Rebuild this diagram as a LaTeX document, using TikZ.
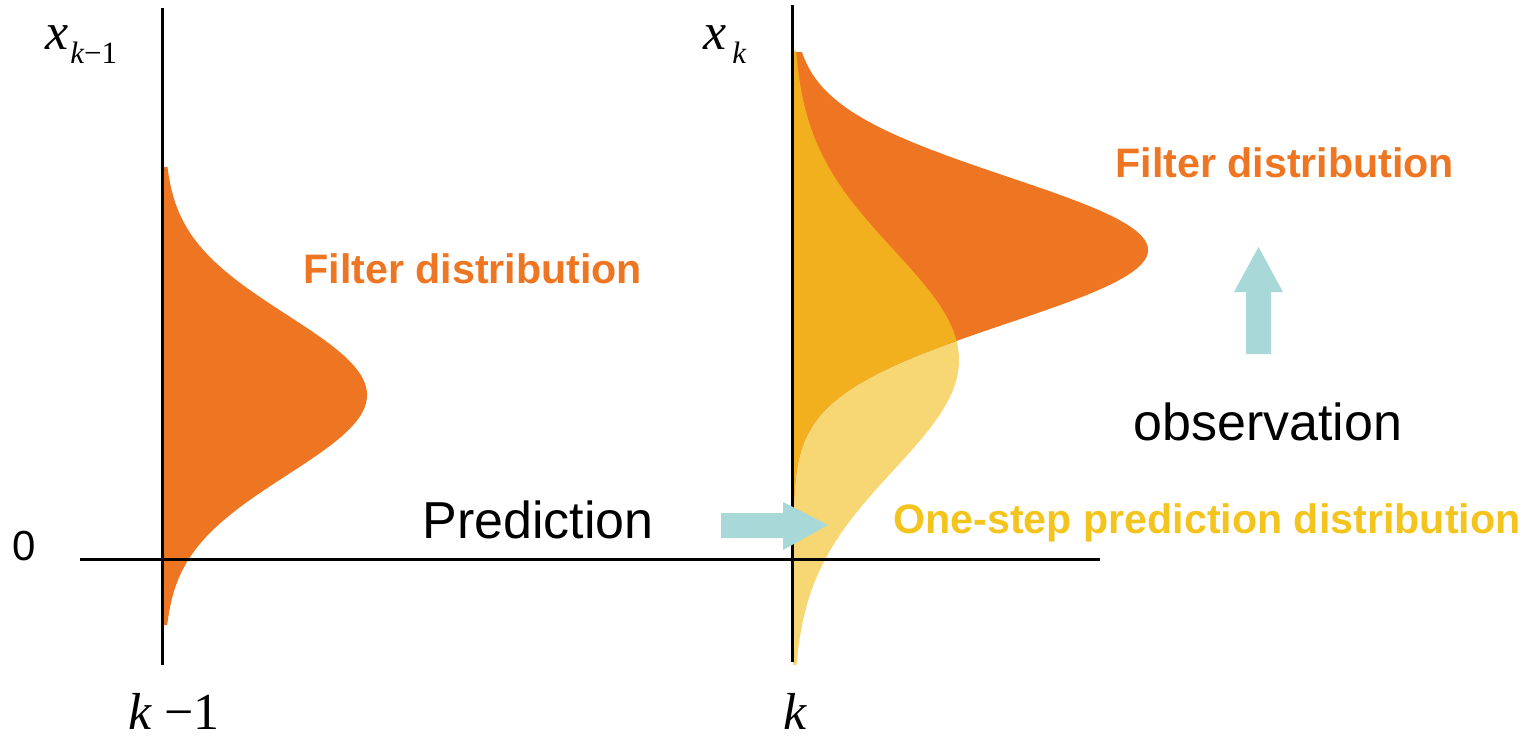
\documentclass[tikz,border=0pt]{standalone}
\usepackage{fontspec}
\setmainfont{Liberation Sans}
\newfontfamily\tnr{Liberation Serif}
\definecolor{filtorange}{HTML}{EE7521}
\definecolor{predyellow}{HTML}{F7D774}
\definecolor{overlapgold}{HTML}{F2B01E}
\definecolor{predtext}{HTML}{F4C41E}
\definecolor{arrowteal}{HTML}{A8D8D8}
\tikzset{
  axisline/.style={line width=1.5pt, draw=black},
  blockarrow/.style={fill=arrowteal},
  distlabel/.style={anchor=base west, text=#1, inner sep=0pt,
                    font=\fontsize{20.6}{24}\selectfont\bfseries},
  plainlabel/.style={anchor=base west, inner sep=0pt, font=\fontsize{26}{30}\selectfont},
  mathlabel/.style={anchor=base west, inner sep=0pt, font=\fontsize{26}{30}\selectfont\tnr},
}

\begin{document}
\begin{tikzpicture}[x=0.5pt, y=-0.5pt]
  \useasboundingbox (0,0) rectangle (1537,741);
  % filter distribution at k-1
  \fill[filtorange] (164,167) -- plot[variable=\t, domain=167:625, samples=120]
    ({164+203*exp(-0.5*((\t-395)/80)^2)}, \t) -- (164,625) -- cycle;
  % one-step prediction and filter distribution at k
  \fill[predyellow] (793,50) -- plot[variable=\t, domain=50:665, samples=150]
    ({793+166*exp(-0.5*((\t-360)/110)^2)}, \t) -- (793,665) -- cycle;
  \fill[filtorange] (793,52) -- plot[variable=\t, domain=52:520, samples=150]
    ({793+355*exp(-0.5*((\t-250)/73)^2)}, \t) -- (793,520) -- cycle;
  \begin{scope}
    \clip (793,50) -- plot[variable=\t, domain=50:665, samples=150]
      ({793+166*exp(-0.5*((\t-360)/110)^2)}, \t) -- (793,665) -- cycle;
    \fill[overlapgold] (793,52) -- plot[variable=\t, domain=52:520, samples=150]
      ({793+355*exp(-0.5*((\t-250)/73)^2)}, \t) -- (793,520) -- cycle;
  \end{scope}
  % axes
  \draw[axisline] (162,8) -- (162,665);
  \draw[axisline] (792,5) -- (792,662);
  \draw[axisline] (80,559) -- (1100,559);
  % arrows
  \fill[blockarrow] (721,513) -- (783,513) -- (783,502) -- (828,525) -- (783,550)
    -- (783,538) -- (721,538) -- cycle;
  \fill[blockarrow] (1246,354) -- (1246,292) -- (1234,292) -- (1258.5,247)
    -- (1283,292) -- (1271,292) -- (1271,354) -- cycle;
  % labels
  \node[distlabel=filtorange] (filtprev) at (303,283) {Filter distribution};
  \node[distlabel=filtorange] (filtnow) at (1115,177) {Filter distribution};
  \node[distlabel=predtext] (onestep) at (893,533) {One-step prediction distribution};
  \node[plainlabel] (pred) at (422,538) {Prediction};
  \node[plainlabel] (obs) at (1133,440) {observation};
  \node[anchor=base west, inner sep=0pt, font=\fontsize{21}{24}\selectfont] (zero) at (12,560) {0};
  \node[mathlabel] (xprev) at (45,49)
    {\itshape x\kern1pt\raisebox{-7pt}{\fontsize{15.5}{18}\selectfont k\upshape −1}};
  \node[mathlabel] (xnow) at (703,49)
    {\itshape x\kern3pt\raisebox{-7pt}{\fontsize{15.5}{18}\selectfont k}};
  \node[mathlabel] (kprev) at (128,729) {\itshape k \upshape −1};
  \node[mathlabel] (know) at (783,729) {\itshape k};
\end{tikzpicture}
\end{document}
